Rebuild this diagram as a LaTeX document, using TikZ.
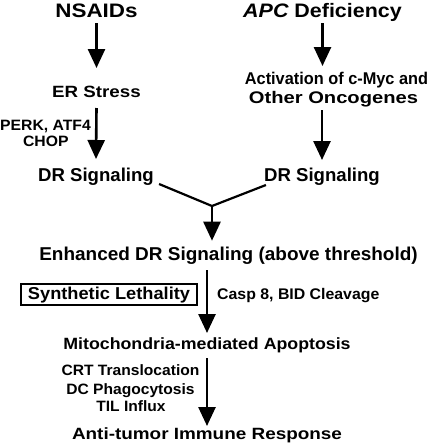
\documentclass[tikz,border=0pt]{standalone}
\usepackage{fontspec}
\usepackage{graphicx}
\setmainfont{Liberation Sans}[Ligatures=NoCommon]
\usetikzlibrary{arrows.meta}
\newcommand\F[1]{\bfseries\fontsize{#1}{#1}\selectfont}
\newcommand\SX[2]{\scalebox{#1}[1]{#2}}
\begin{document}
\begin{tikzpicture}[x=1pt,y=-1pt,
  lbl/.style={inner sep=0pt, anchor=base, text=black},
  arr/.style={line width=2.6pt, -{Triangle[width=17pt,length=19pt]}},
  vline/.style={line width=2.2pt},
  boxed/.style={draw, line width=2pt, inner sep=0pt, minimum width=176pt, minimum height=21pt}
]
\fill[white] (0,0) rectangle (429,445);
\useasboundingbox (0,0) rectangle (429,445);
% top row
\node[lbl, font=\F{19.5}] (nsaids) at (96.5,17.3) {\SX{1.15}{NSAIDs}};
\node[lbl, font=\F{19.5}] (apc) at (322.5,17.3) {\SX{1.1}{\itshape APC\upshape{} Deficiency}};
% second row
\node[lbl, font=\F{16.3}] (er) at (96.5,97) {\SX{1.15}{ER Stress}};
\node[lbl, font=\F{17}] (act) at (336.5,84) {\SX{0.96}{Activation of c-Myc and}};
\node[lbl, font=\F{16.8}] (onc) at (333.5,103.7) {\SX{1.2}{Other Oncogenes}};
% labels on left arrow
\node[lbl, font=\F{15}] (perk) at (45.5,130) {\SX{1.05}{PERK, ATF4}};
\node[lbl, font=\F{15}] (chop) at (45.8,146) {\SX{1.05}{CHOP}};
% DR signaling
\node[lbl, font=\F{18.6}] (drL) at (96,181) {DR Signaling};
\node[lbl, font=\F{18.6}] (drR) at (322,181) {DR Signaling};
\coordinate (vtx) at (212,206);
% enhanced
\node[lbl, font=\F{18.6}] (enh) at (228.5,260.7) {\SX{1.02}{Enhanced DR Signaling (above threshold)}};
\node[lbl, boxed, font=\F{17.2}] (syn) at (109,299.3) {\SX{1.06}{Synthetic Lethality}};
\node[lbl, anchor=base west, font=\F{15.4}] (casp) at (217,299) {\SX{1.03}{Casp 8, BID Cleavage}};
\node[lbl, font=\F{16.3}] (mito) at (207,349) {\SX{1.09}{Mitochondria-mediated Apoptosis}};
\node[lbl, font=\F{15}] (crt) at (130.5,375.7) {\SX{1.04}{CRT Translocation}};
\node[lbl, font=\F{15}] (dc) at (130.5,394) {\SX{1.04}{DC Phagocytosis}};
\node[lbl, font=\F{15}] (til) at (131,411) {\SX{1.04}{TIL Influx}};
\node[lbl, font=\F{16.3}] (anti) at (207,439) {\SX{1.16}{Anti-tumor Immune Response}};
% arrows
\draw[arr] ([yshift=-5.7pt]nsaids.base) -- ([yshift=29pt]er.base);
\draw[arr] ([yshift=-5.7pt]apc.base) -- ([yshift=18pt]apc.base |- act.base);
\draw[arr] ([yshift=-11pt]er.base) -- ([yshift=22pt]drL.base);
\draw[arr] ([yshift=-6.3pt]drR.base |- onc.base) -- ([yshift=21pt]drR.base);
\draw[vline] ([xshift=5pt,yshift=-3pt]drL.base east) -- (vtx) -- ([xshift=2pt,yshift=-4pt]drR.base west);
\draw[arr] (vtx) -- ([yshift=20pt]vtx |- enh.base);
\draw[arr] ([yshift=-9.3pt]mito.base |- enh.base) -- ([yshift=16pt]mito.base);
\draw[arr] ([yshift=-9pt]mito.base) -- ([yshift=13pt]anti.base);
\end{tikzpicture}
\end{document}
